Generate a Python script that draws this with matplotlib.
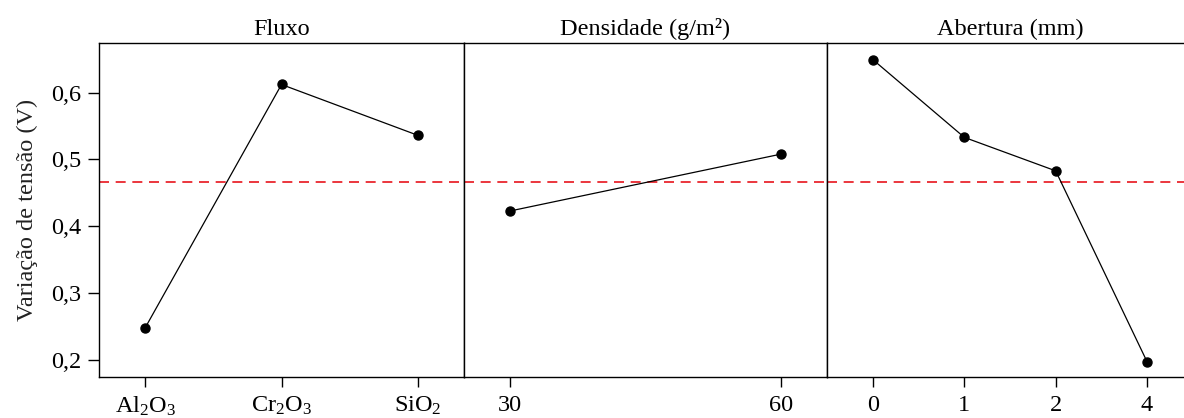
import numpy as np
import matplotlib.pyplot as plt

# main effects
fluxo_labels = [r'Al$_2$O$_3$', r'Cr$_2$O$_3$', r'SiO$_2$']
fluxo_vals = [0.248, 0.612, 0.536]

dens_labels = ['30', '60']
dens_vals = [0.423, 0.508]

abert_labels = ['0', '1', '2', '4']
abert_vals = [0.649, 0.533, 0.483, 0.198]

media = 0.467
yticks = [0.2, 0.3, 0.4, 0.5, 0.6]
titulos = ['Fluxo', 'Densidade (g/m²)', 'Abertura (mm)']

plt.rcParams['font.family'] = ['Liberation Serif', 'DejaVu Serif']
plt.rcParams['mathtext.fontset'] = 'custom'
plt.rcParams['mathtext.rm'] = 'Liberation Serif'
plt.rcParams['mathtext.it'] = 'Liberation Serif'

W, H = 1184, 418
fig = plt.figure(figsize=(W / 100, H / 100), dpi=100)

# panel edges in pixels (last panel is cut by the image border)
edges = [99, 464, 827, 1193]
top, bottom = 43, 377
margem = 46  # px between panel edge and first/last level
fs = 17.5

paineis = [(fluxo_labels, fluxo_vals), (dens_labels, dens_vals), (abert_labels, abert_vals)]
for i, (labs, vals) in enumerate(paineis):
    x0, x1 = edges[i], edges[i + 1]
    ax = fig.add_axes([x0 / W, 1 - bottom / H, (x1 - x0) / W, (bottom - top) / H])
    n = len(vals)
    xs = np.arange(n)
    step = (x1 - x0 - 2 * margem) / (n - 1)
    m = margem / step
    ax.set_xlim(-m, n - 1 + m)
    ax.set_ylim(0.175, 0.674)
    ax.axhline(media, color='#e8141c', lw=1.2, ls=(0, (6, 4)), zorder=1)
    ax.plot(xs, vals, color='black', lw=0.9, marker='o', ms=6.5, zorder=3)
    ax.set_xticks(xs)
    ax.set_xticklabels(labs, fontsize=fs)
    ax.tick_params(axis='x', direction='out', length=7, width=1, pad=6)
    ax.set_title(titulos[i], fontsize=fs, pad=6)
    for s in ax.spines.values():
        s.set_linewidth(1.0)
    if i == 0:
        ax.set_yticks(yticks)
        ax.set_yticklabels([f'{v:.1f}'.replace('.', ',') for v in yticks], fontsize=fs)
        ax.tick_params(axis='y', direction='out', length=8, width=1, pad=5)
        ax.set_ylabel('Variação de tensão (V)', fontsize=fs, color='#222222', labelpad=9)
    else:
        ax.set_yticks([])

fig.savefig('out.png', dpi=100)
